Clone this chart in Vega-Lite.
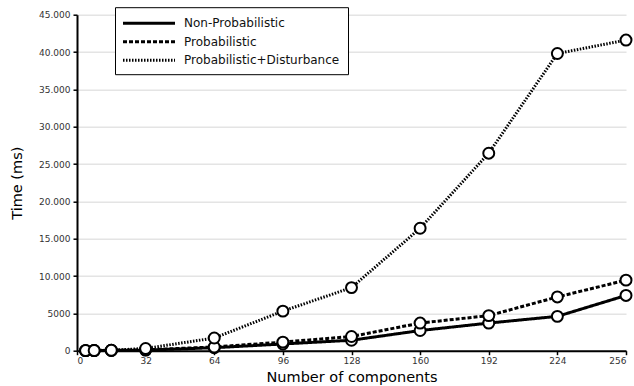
{
  "$schema": "https://vega.github.io/schema/vega-lite/v6.json",
  "width": 549,
  "height": 336,
  "autosize": {"type": "none"},
  "padding": {"left": 77, "top": 14.7, "right": 8, "bottom": 35.3},
  "background": "white",
  "config": {
    "view": {"stroke": null},
    "font": "DejaVu Sans",
    "axis": {"labelFont": "DejaVu Sans", "titleFont": "DejaVu Sans", "titleFontWeight": "normal"}
  },
  "data": {
    "values": [
      {"n": 4, "s": "Non-Probabilistic", "t": 10},
      {"n": 8, "s": "Non-Probabilistic", "t": 20},
      {"n": 16, "s": "Non-Probabilistic", "t": 40},
      {"n": 32, "s": "Non-Probabilistic", "t": 80},
      {"n": 64, "s": "Non-Probabilistic", "t": 400},
      {"n": 96, "s": "Non-Probabilistic", "t": 900},
      {"n": 128, "s": "Non-Probabilistic", "t": 1400},
      {"n": 160, "s": "Non-Probabilistic", "t": 2700},
      {"n": 192, "s": "Non-Probabilistic", "t": 3700},
      {"n": 224, "s": "Non-Probabilistic", "t": 4600},
      {"n": 256, "s": "Non-Probabilistic", "t": 7400},
      {"n": 4, "s": "Probabilistic", "t": 10},
      {"n": 8, "s": "Probabilistic", "t": 20},
      {"n": 16, "s": "Probabilistic", "t": 50},
      {"n": 32, "s": "Probabilistic", "t": 120},
      {"n": 64, "s": "Probabilistic", "t": 500},
      {"n": 96, "s": "Probabilistic", "t": 1150},
      {"n": 128, "s": "Probabilistic", "t": 1900},
      {"n": 160, "s": "Probabilistic", "t": 3700},
      {"n": 192, "s": "Probabilistic", "t": 4700},
      {"n": 224, "s": "Probabilistic", "t": 7200},
      {"n": 256, "s": "Probabilistic", "t": 9450},
      {"n": 4, "s": "Probabilistic+Disturbance", "t": 20},
      {"n": 8, "s": "Probabilistic+Disturbance", "t": 30},
      {"n": 16, "s": "Probabilistic+Disturbance", "t": 60},
      {"n": 32, "s": "Probabilistic+Disturbance", "t": 300},
      {"n": 64, "s": "Probabilistic+Disturbance", "t": 1700},
      {"n": 96, "s": "Probabilistic+Disturbance", "t": 5300},
      {"n": 128, "s": "Probabilistic+Disturbance", "t": 8450},
      {"n": 160, "s": "Probabilistic+Disturbance", "t": 16400},
      {"n": 192, "s": "Probabilistic+Disturbance", "t": 26450},
      {"n": 224, "s": "Probabilistic+Disturbance", "t": 39800},
      {"n": 256, "s": "Probabilistic+Disturbance", "t": 41600}
    ]
  },
  "encoding": {
    "x": {
      "field": "n", "type": "quantitative",
      "scale": {"domain": [0, 256], "nice": false},
      "axis": {
        "title": "Number of components", "titleFontSize": 14.5, "titleColor": "black", "titlePadding": 5,
        "values": [0, 32, 64, 96, 128, 160, 192, 224, 256],
        "grid": false, "domainColor": "black", "domainWidth": 2, "tickColor": "black", "tickWidth": 1.5, "tickSize": 4,
        "labelFontSize": 9, "labelColor": "#333", "labelPadding": 2
      }
    },
    "y": {
      "field": "t", "type": "quantitative",
      "scale": {"domain": [0, 45000], "nice": false},
      "axis": {
        "title": "Time (ms)", "titleFontSize": 14.5, "titleColor": "black", "titlePadding": 14,
        "values": [0, 5000, 10000, 15000, 20000, 25000, 30000, 35000, 40000, 45000],
        "labelExpr": "datum.value >= 10000 ? format(datum.value / 1000, '.3f') : format(datum.value, 'd')",
        "gridColor": "#e4e4e4", "gridWidth": 1.5,
        "domainColor": "black", "domainWidth": 2, "tickColor": "black", "tickWidth": 1.5, "tickSize": 4,
        "labelFontSize": 9, "labelColor": "#333", "labelPadding": 3
      }
    }
  },
  "layer": [
    {
      "mark": {"type": "line", "color": "black", "strokeWidth": 3},
      "encoding": {
        "strokeDash": {
          "field": "s", "type": "nominal",
          "scale": {
            "domain": ["Non-Probabilistic", "Probabilistic", "Probabilistic+Disturbance"],
            "range": [[1, 0], [4, 2], [1.5, 1.5]]
          },
          "legend": {
            "title": null, "orient": "none", "legendX": 38, "legendY": -7.5,
            "strokeColor": "black", "fillColor": "white", "padding": 8,
            "symbolType": "M-4,0H4", "symbolSize": 169, "symbolOffset": 18,
            "symbolStrokeWidth": 3, "symbolStrokeColor": "black",
            "labelFontSize": 12, "labelColor": "#111", "labelOffset": 27, "rowPadding": 4.5,
            "labelLimit": 300
          }
        }
      }
    },
    {
      "mark": {"type": "point", "shape": "circle", "filled": true, "fill": "white", "stroke": "black", "strokeWidth": 2, "size": 120, "opacity": 1},
      "encoding": {"detail": {"field": "s"}}
    }
  ]
}
